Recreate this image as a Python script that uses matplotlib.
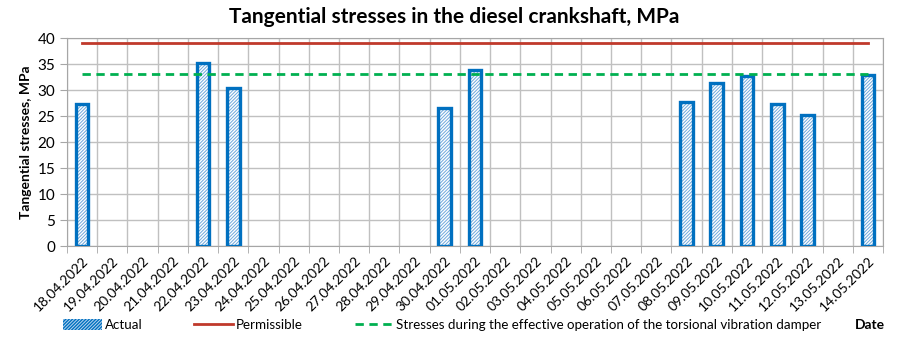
import matplotlib
matplotlib.use("Agg")
import matplotlib.pyplot as plt
from matplotlib.patches import Patch
import numpy as np

plt.rcParams['font.family'] = ['Lato', 'DejaVu Sans']
plt.rcParams['hatch.linewidth'] = 0.7

# dates 18.04.2022 .. 14.05.2022
dates = ['18.04.2022', '19.04.2022', '20.04.2022', '21.04.2022', '22.04.2022',
         '23.04.2022', '24.04.2022', '25.04.2022', '26.04.2022', '27.04.2022',
         '28.04.2022', '29.04.2022', '30.04.2022', '01.05.2022', '02.05.2022',
         '03.05.2022', '04.05.2022', '05.05.2022', '06.05.2022', '07.05.2022',
         '08.05.2022', '09.05.2022', '10.05.2022', '11.05.2022', '12.05.2022',
         '13.05.2022', '14.05.2022']
actual = [27.3, None, None, None, 35.2, 30.4, None, None, None, None, None, None,
          26.5, 33.8, None, None, None, None, None, None, 27.7, 31.4, 32.7,
          27.3, 25.1, None, 32.9]
permissible = 39.0
damper = 33.0

blue = '#0070C0'
hatch_blue = '#6FA8DC'
x = np.arange(len(dates))

fig = plt.figure(figsize=(9.08, 3.37), dpi=100)
ax = fig.add_axes([67/908, 1 - 246/337, (883-67)/908, (246-38)/337])

xs = [i for i, v in zip(x, actual) if v is not None]
vals = [v for v in actual if v is not None]
# hatched fill, then the thick outline
ax.bar(xs, vals, width=0.42, color='white', edgecolor=hatch_blue, hatch='//////////',
       linewidth=0, zorder=3)
ax.bar(xs, vals, width=0.42, fill=False, edgecolor=blue, linewidth=2.4, zorder=3)

l1, = ax.plot([x[0], x[-1]], [permissible]*2, color='#C0392B', lw=2, zorder=4)
l2, = ax.plot([x[0], x[-1]], [damper]*2, color='#00B050', lw=2, ls=(0, (3, 2)), zorder=4)

ax.set_xlim(-0.5, len(dates) - 0.5)
ax.set_ylim(0, 40)
ax.set_yticks(range(0, 41, 5))
ax.set_xticks(x)
ax.set_xticklabels(dates, rotation=45, ha='right', rotation_mode='anchor', fontsize=10)
ax.set_xticks(np.arange(-0.5, len(dates), 1), minor=True)
ax.tick_params(axis='x', which='major', length=0, pad=6)
ax.tick_params(axis='x', which='minor', length=5, color='#A6A6A6')
ax.tick_params(axis='y', length=5, color='#A6A6A6', labelsize=11)
ax.grid(True, which='minor', axis='x', color='#C0C0C0', lw=1)
ax.grid(True, which='major', axis='y', color='#C0C0C0', lw=1)
ax.set_axisbelow(True)
for s in ax.spines.values():
    s.set_color('#A6A6A6')

ax.set_ylabel('Tangential stresses, MPa', fontsize=10, fontweight='bold')
fig.text(0.5, 1 - 17/337, 'Tangential stresses in the diesel crankshaft, MPa',
         ha='center', va='center', fontsize=15, fontweight='bold')
fig.text(855/908, 1 - 325/337, 'Date', ha='left', va='center', fontsize=10,
         fontweight='bold')

h0 = Patch(facecolor=blue, edgecolor='#B8D4EE', hatch='//////////', linewidth=0)
fig.legend([h0, l1, l2],
           ['Actual', 'Permissible',
            'Stresses during the effective operation of the torsional vibration damper'],
           loc='center left', bbox_to_anchor=(58/908, 1 - 325/337), ncol=3,
           frameon=False, fontsize=9.6, handlelength=2.9, handletextpad=0.2,
           columnspacing=3.9, borderaxespad=0, handleheight=0.9)

fig.savefig('out.png', dpi=100)
